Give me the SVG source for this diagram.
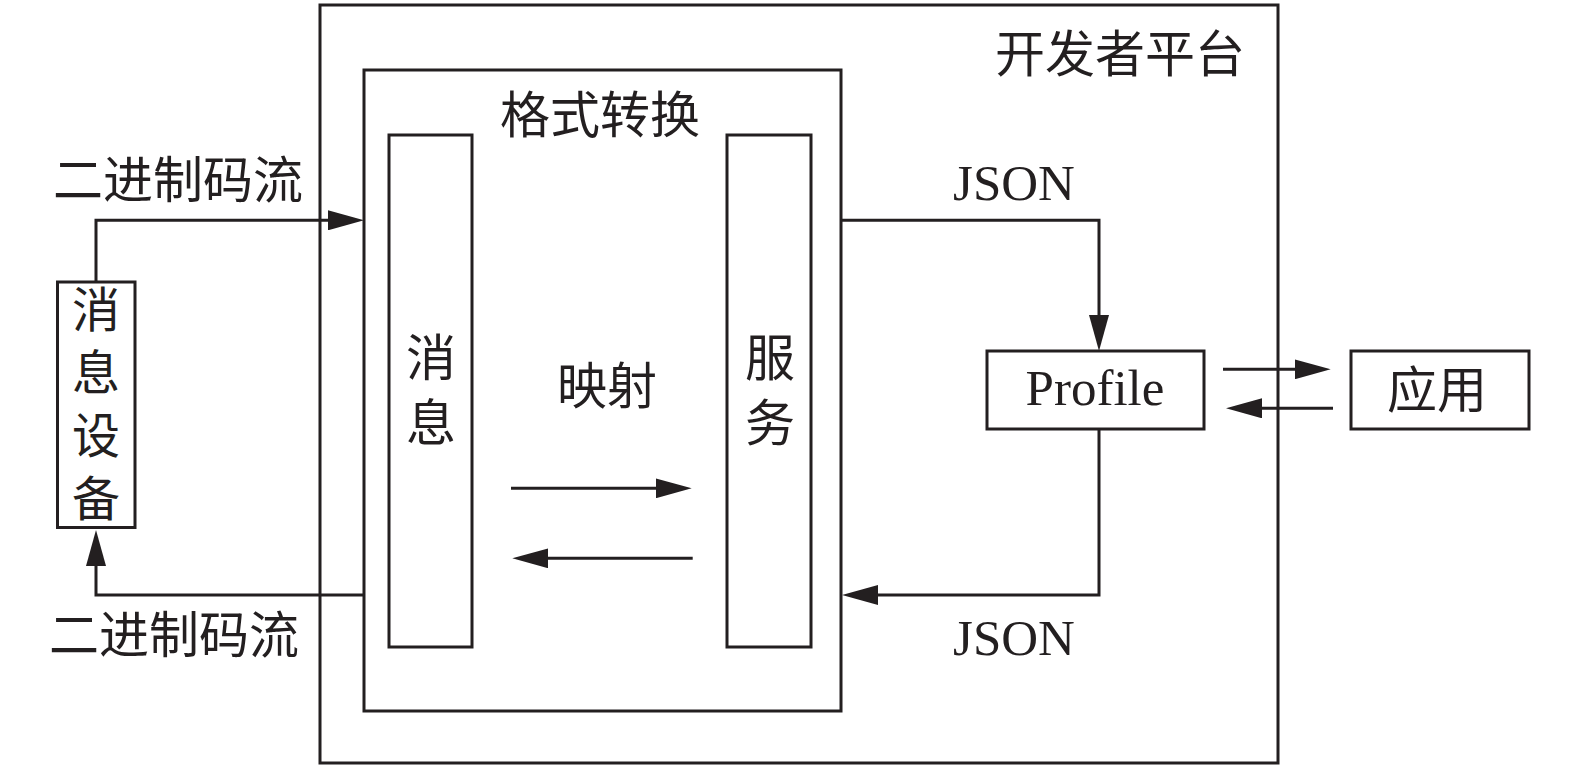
<svg xmlns="http://www.w3.org/2000/svg" width="1575" height="769" viewBox="0 0 1575 769">
<style>
.box{fill:none;stroke:#231f20;stroke-width:3}
.con{fill:none;stroke:#231f20;stroke-width:3}
.cn{font-family:"Noto Sans CJK SC","Noto Sans CJK JP",sans-serif;font-size:50px;fill:#231f20;text-anchor:middle}
.vt{font-family:"Noto Sans CJK SC","Noto Sans CJK JP",sans-serif;font-size:48px;fill:#231f20;writing-mode:vertical-rl;text-orientation:upright;letter-spacing:15px}
.lat{font-family:"Liberation Serif","Times New Roman",serif;font-size:51px;fill:#231f20;text-anchor:middle}
</style>
<defs>
<marker id="arr" markerUnits="userSpaceOnUse" markerWidth="36" markerHeight="20" refX="20" refY="10" orient="auto" viewBox="0 0 36 20">
<path d="M0,0 L36,10 L0,20 z" fill="#231f20"/>
</marker>
</defs>
<rect width="1575" height="769" fill="#ffffff"/>
<g id="platform">
<rect class="box" x="320" y="5" width="958" height="758"/>
<text class="cn" x="1120" y="72">开发者平台</text>
</g>
<g id="format">
<rect class="box" x="364" y="70" width="477" height="641"/>
<text class="cn" x="600" y="133">格式转换</text>
</g>
<g id="message">
<rect class="box" x="389" y="135" width="83" height="512"/>
<text class="cn" x="431" y="376">消</text>
<text class="cn" x="431" y="441">息</text>
</g>
<g id="service">
<rect class="box" x="727" y="135" width="84" height="512"/>
<text class="cn" x="770" y="376">服</text>
<text class="cn" x="770" y="441">务</text>
</g>
<g id="device">
<rect class="box" x="57.5" y="282" width="77.5" height="245.5"/>
<text class="vt" x="96" y="285">消息设备</text>
</g>
<g id="profile">
<rect class="box" x="987" y="351" width="217" height="78"/>
<text class="lat" x="1095" y="405">Profile</text>
</g>
<g id="app">
<rect class="box" x="1351" y="351" width="178" height="78"/>
<text class="cn" x="1437" y="408">应用</text>
</g>
<g id="connectors">
<path class="con" d="M96,282 V220.3 H348" marker-end="url(#arr)"/>
<path class="con" d="M364,595 H96 V546" marker-end="url(#arr)"/>
<path class="con" d="M841,220.3 H1099 V335" marker-end="url(#arr)"/>
<path class="con" d="M1099,429 V595 H858" marker-end="url(#arr)"/>
<path class="con" d="M511,488.3 H675.7" marker-end="url(#arr)"/>
<path class="con" d="M692.7,558.3 H528.3" marker-end="url(#arr)"/>
<path class="con" d="M1223,369.3 H1314.7" marker-end="url(#arr)"/>
<path class="con" d="M1333,408.3 H1242" marker-end="url(#arr)"/>
</g>
<g id="labels">
<text class="cn" x="178" y="198">二进制码流</text>
<text class="cn" x="174" y="653">二进制码流</text>
<text class="lat" x="1014" y="200">JSON</text>
<text class="lat" x="1014" y="655">JSON</text>
<text class="cn" x="607" y="404">映射</text>
</g>
</svg>
